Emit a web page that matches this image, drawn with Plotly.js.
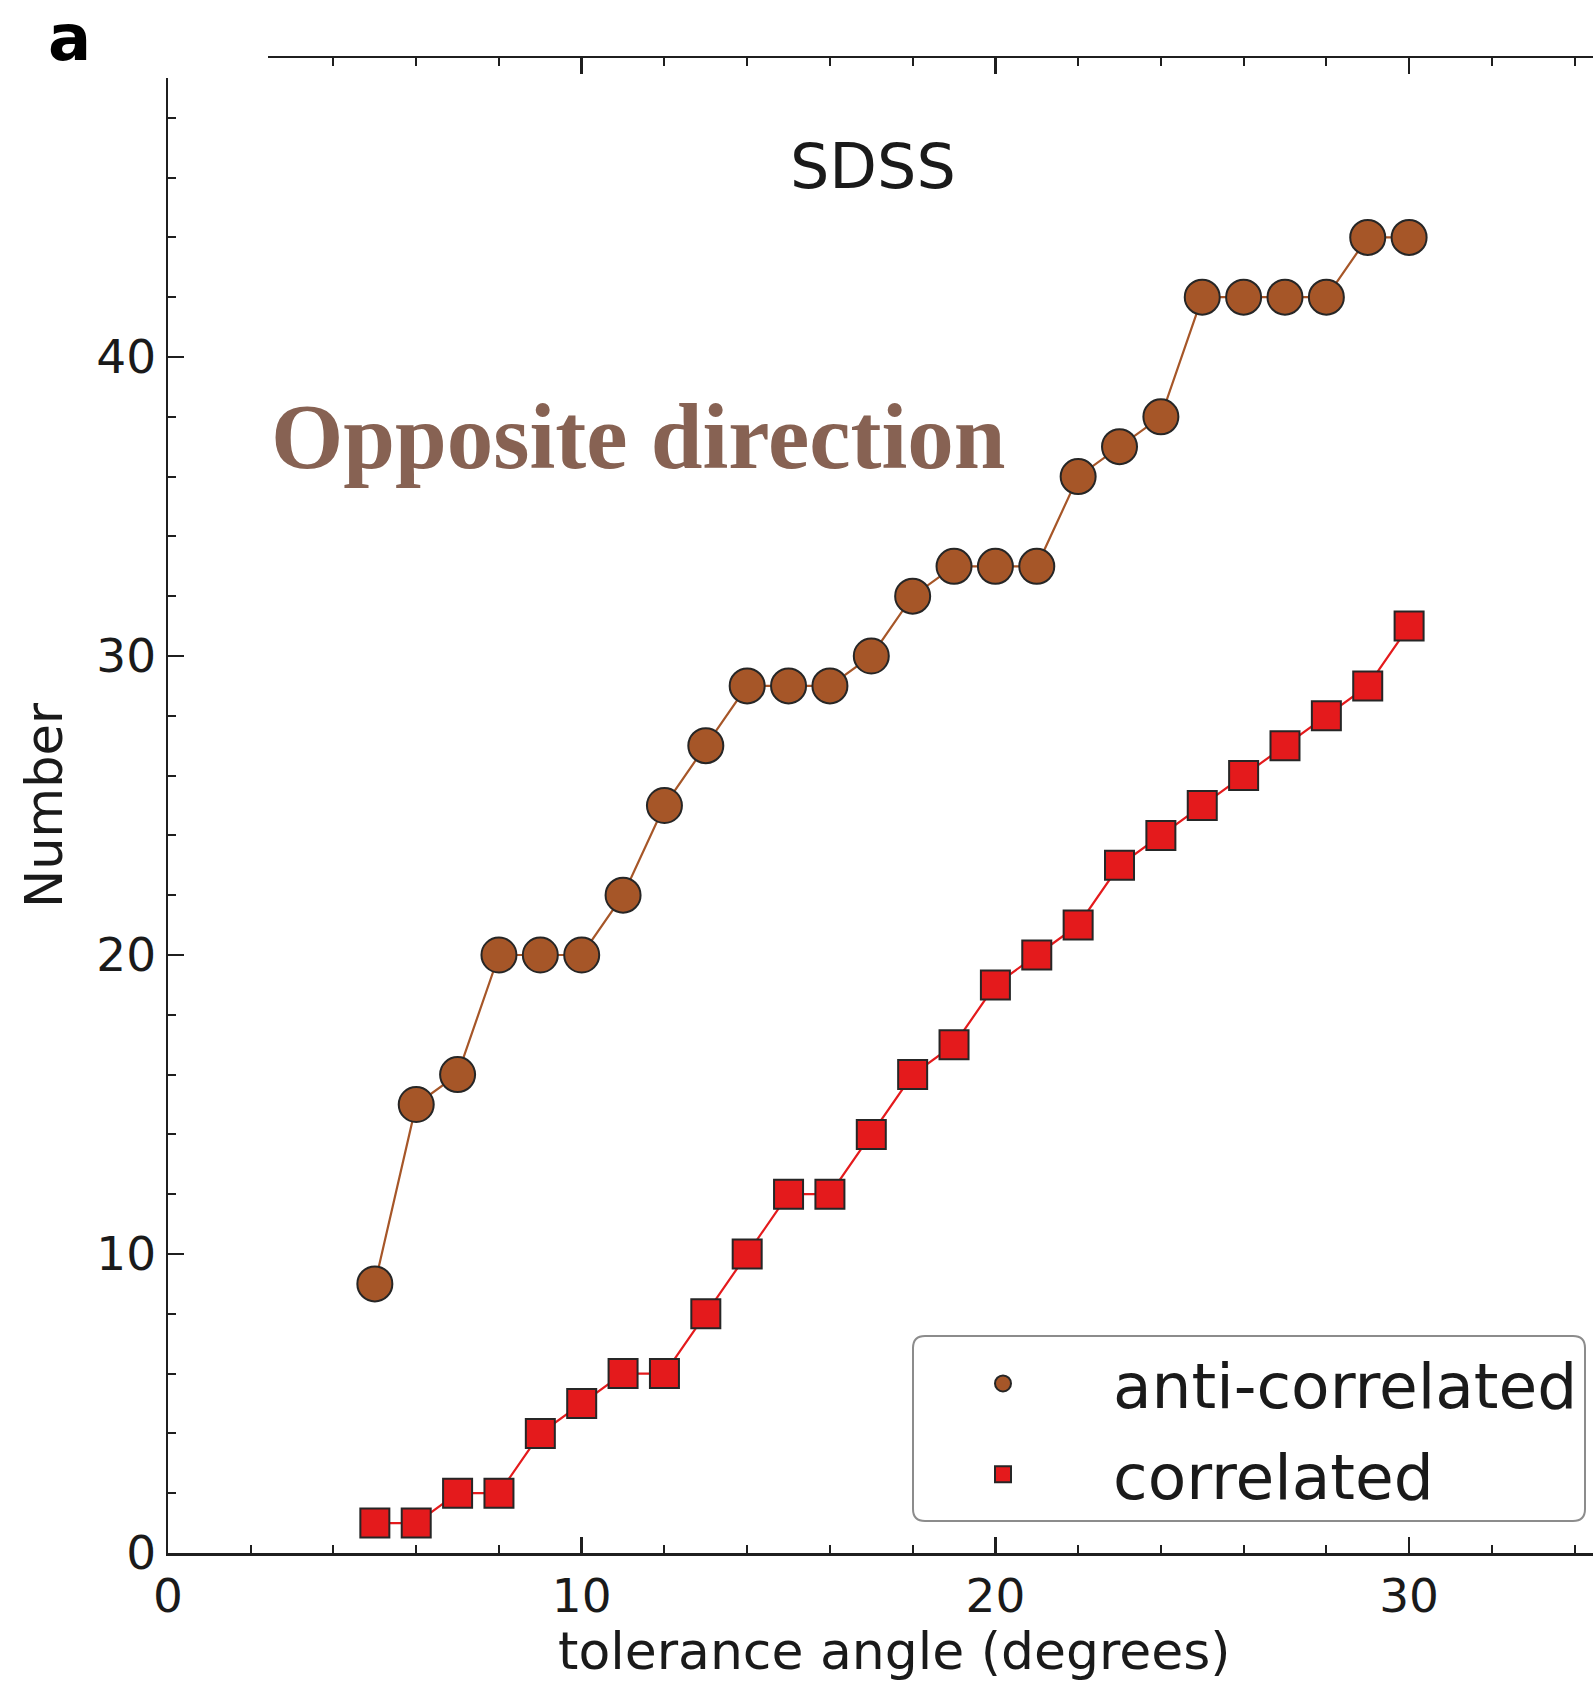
<!DOCTYPE html>
<html>
<head>
<meta charset="utf-8">
<script src="https://cdn.plot.ly/plotly-3.0.1.min.js"></script>
<style>html,body{margin:0;padding:0;background:#fff;}#chart{width:1593px;height:1682px;}</style>
</head>
<body>
<div id="chart"></div>
<script>
// ---- data ----
const angles = [5,6,7,8,9,10,11,12,13,14,15,16,17,18,19,20,21,22,23,24,25,26,27,28,29,30];
const antiCorrelated = [9,15,16,20,20,20,22,25,27,29,29,29,30,32,33,33,33,36,37,38,42,42,42,42,44,44];
const correlated = [1,1,2,2,4,5,6,6,8,10,12,12,14,16,17,19,20,21,23,24,25,26,27,28,29,31];
const seriesNames = ['anti-correlated', 'correlated'];
const xTickVals = [0,10,20,30];
const xTickText = ['0','10','20','30'];
const yTickVals = [0,10,20,30,40];
const yTickText = ['0','10','20','30','40'];
const panelLabel = 'a';
const sampleLabel = 'SDSS';
const directionLabel = 'Opposite direction';
const xTitle = 'tolerance angle (degrees)';
const yTitle = 'Number';

// ---- styles ----
const W = 1593, H = 1682;
const M = {l:168, r:0, t:58, b:129};
const brown = '#a65628', red = '#e41a1c', edge = '#262626', axisCol = '#1f1f1f';
const FONT = 'DejaVu Sans, sans-serif';

function px2paperX(p){ return (p - M.l) / (W - M.l - M.r); }
function px2paperY(p){ return (H - M.b - p) / (H - M.t - M.b); }

function roundRect(x0,y0,x1,y1,r){
  const X0=px2paperX(x0), X1=px2paperX(x1), Y0=px2paperY(y0), Y1=px2paperY(y1);
  const rx=r/(W-M.l-M.r), ry=r/(H-M.t-M.b);
  return `M${X0+rx},${Y0} L${X1-rx},${Y0} Q${X1},${Y0} ${X1},${Y0-ry} L${X1},${Y1+ry} Q${X1},${Y1} ${X1-rx},${Y1} L${X0+rx},${Y1} Q${X0},${Y1} ${X0},${Y1+ry} L${X0},${Y0-ry} Q${X0},${Y0} ${X0+rx},${Y0} Z`;
}

const traces = [
  {x: angles, y: antiCorrelated, mode:'lines', line:{color:brown, width:2.2}, showlegend:false, hoverinfo:'skip'},
  {x: angles, y: correlated, mode:'lines', line:{color:red, width:2.2}, showlegend:false, hoverinfo:'skip'},
  {x: angles, y: antiCorrelated, mode:'markers', name: seriesNames[0], legendgroup:'g1',
   marker:{symbol:'circle', size:35, color:brown, line:{color:edge, width:2}}},
  {x: angles, y: correlated, mode:'markers', name: seriesNames[1], legendgroup:'g2',
   marker:{symbol:'square', size:29, color:red, line:{color:edge, width:2}}}
];

const axisCommon = {
  showgrid:false, zeroline:false, showline:true, linecolor:axisCol, linewidth:2.5,
  ticks:'inside', ticklen:16, tickwidth:2.5, tickcolor:axisCol,
  tickfont:{family:FONT, size:47, color:'#1a1a1a'},
  tickmode:'array',
  minor:{tickmode:'linear', tick0:0, dtick:2, ticks:'inside', ticklen:8, tickwidth:2, tickcolor:axisCol}
};

const layout = {
  width:W, height:H, margin:M,
  paper_bgcolor:'#fff', plot_bgcolor:'#fff',
  showlegend:true,
  xaxis: Object.assign({}, axisCommon, {
    range:[0, (W-M.l-M.r)/41.37], tickvals:xTickVals, ticktext:xTickText, mirror:'ticks'
  }),
  yaxis: Object.assign({}, axisCommon, {
    range:[0,50], tickvals:yTickVals, ticktext:yTickText, mirror:false,
    title:{text:yTitle, font:{family:FONT, size:51, color:'#1a1a1a'}, standoff:18}
  }),
  legend:{
    x: px2paperX(893), y: px2paperY(1336), xanchor:'left', yanchor:'top',
    bgcolor:'rgba(0,0,0,0)', borderwidth:0,
    font:{family:FONT, size:63, color:'#1a1a1a'},
    itemwidth:210, traceorder:'grouped', tracegroupgap:6
  },
  shapes:[
    {type:'rect', xref:'paper', yref:'paper', x0:px2paperX(140), x1:px2paperX(268), y0:px2paperY(78), y1:px2paperY(30),
     fillcolor:'#fff', line:{width:0}, layer:'above'},
    {type:'path', xref:'paper', yref:'paper', path: roundRect(913,1336,1585,1521,12),
     fillcolor:'rgba(255,255,255,1)', line:{color:'#8c8c8c', width:2}, layer:'below'}
  ],
  annotations:[
    {text:panelLabel, xref:'paper', yref:'paper', x:px2paperX(69), y:px2paperY(0), xanchor:'center', yanchor:'top',
     showarrow:false, borderpad:0, font:{family:FONT, size:64, color:'#000', weight:'bold'}},
    {text:sampleLabel, xref:'paper', yref:'paper', x:px2paperX(873), y:px2paperY(166), xanchor:'center', yanchor:'middle',
     showarrow:false, font:{family:FONT, size:62, color:'#1a1a1a'}},
    {text:directionLabel, xref:'paper', yref:'paper', x:px2paperX(269), y:px2paperY(436), xanchor:'left', yanchor:'middle',
     showarrow:false, font:{family:'Liberation Serif, Times New Roman, serif', size:93, color:'#876253', weight:'bold'}},
    {text:xTitle, xref:'paper', yref:'paper', x:px2paperX(894), y:px2paperY(1682), xanchor:'center', yanchor:'bottom',
     showarrow:false, borderpad:0, font:{family:FONT, size:52, color:'#1a1a1a'}}
  ]
};

Plotly.newPlot('chart', traces, layout, {displayModeBar:false, staticPlot:true});
</script>
</body>
</html>
